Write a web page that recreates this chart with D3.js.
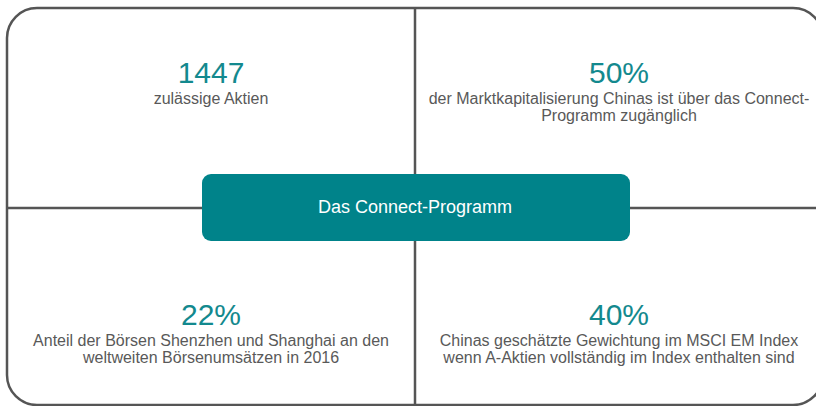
<!DOCTYPE html>
<html>
<head>
<meta charset="utf-8">
<script src="https://cdn.jsdelivr.net/npm/d3@7"></script>
<style>
  body { margin: 0; background: #fff; }
  svg { display: block; font-family: "Liberation Sans", Arial, sans-serif; }
</style>
</head>
<body>
<div id="chart"></div>
<script>
// Kennzahlen je Quadrant (oben links, oben rechts, unten links, unten rechts)
var values = ["1447", "50%", "22%", "40%"];
var labels = [
    ["zulässige Aktien"],
    ["der Marktkapitalisierung Chinas ist über das Connect-", "Programm zugänglich"],
    ["Anteil der Börsen Shenzhen und Shanghai an den", "weltweiten Börsenumsätzen in 2016"],
    ["Chinas geschätzte Gewichtung im MSCI EM Index", "wenn A-Aktien vollständig im Index enthalten sind"]
];
var cols = [0, 1, 0, 1];
var rows = [0, 0, 1, 1];
var centerTitle = "Das Connect-Programm";

function init() {
    var w = 816;
    var h = 406;

    var svg = d3.select("#chart")
        .append("svg")
        .attr("width", w)
        .attr("height", h);

    // Quadranten-Raster
    var x = d3.scaleBand().domain([0, 1]).range([7, 823]);
    var y = d3.scaleBand().domain([0, 1]).range([8, 408]);

    var frame = svg.append("g")
        .attr("fill", "none")
        .attr("stroke", "#555555")
        .attr("stroke-width", 2.5);

    // Außenrahmen mit runden Ecken
    frame.append("rect")
        .attr("x", x.range()[0])
        .attr("y", y.range()[0])
        .attr("width", x.range()[1] - x.range()[0])
        .attr("height", y.range()[1] - y.range()[0] - 3)
        .attr("rx", 30);

    // Trennlinien
    frame.append("line")
        .attr("x1", x(1)).attr("x2", x(1))
        .attr("y1", y.range()[0]).attr("y2", y.range()[1]);
    frame.append("line")
        .attr("x1", x.range()[0]).attr("x2", x.range()[1])
        .attr("y1", y(1)).attr("y2", y(1));

    // Texte der Quadranten
    var cells = svg.selectAll("g.cell")
        .data(values)
        .enter()
        .append("g")
        .attr("class", "cell")
        .attr("transform", function (d, i) {
            return "translate(" + (x(cols[i]) + x.bandwidth() / 2) + "," + (rows[i] ? 325 : 83) + ")";
        });

    cells.append("text")
        .attr("text-anchor", "middle")
        .attr("fill", "#13898e")
        .attr("font-size", 30)
        .text(function (d) { return d; });

    cells.append("text")
        .attr("text-anchor", "middle")
        .attr("fill", "#595959")
        .attr("font-size", 16)
        .selectAll("tspan")
        .data(function (d, i) { return labels[i]; })
        .enter()
        .append("tspan")
        .attr("x", 0)
        .attr("y", function (d, j) { return 21 + j * 16.5; })
        .text(function (d) { return d; });

    // Mittlerer Kasten
    svg.append("rect")
        .attr("x", 202)
        .attr("y", 174)
        .attr("width", 428)
        .attr("height", 67)
        .attr("rx", 9)
        .attr("fill", "#00838a");

    svg.append("text")
        .attr("x", x(1))
        .attr("y", 213)
        .attr("text-anchor", "middle")
        .attr("fill", "#ffffff")
        .attr("font-size", 18)
        .text(centerTitle);
}

window.onload = init;
</script>
</body>
</html>
